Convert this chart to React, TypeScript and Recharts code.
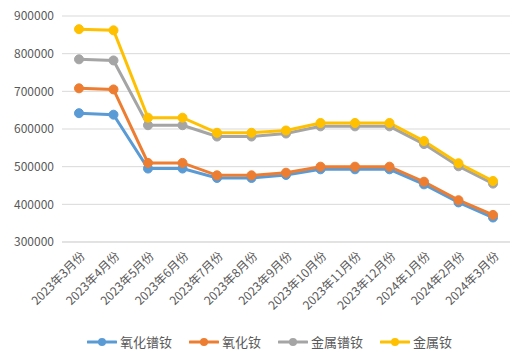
import { LineChart, Line, XAxis, YAxis, CartesianGrid } from 'recharts'

const months = [
  '2023年3月份', '2023年4月份', '2023年5月份', '2023年6月份', '2023年7月份',
  '2023年8月份', '2023年9月份', '2023年10月份', '2023年11月份', '2023年12月份',
  '2024年1月份', '2024年2月份', '2024年3月份',
]

const prNdOxide = [642000, 638000, 495000, 495000, 470000, 470000, 478000, 493000, 493000, 493000, 453000, 405000, 365000]
const ndOxide = [708000, 705000, 510000, 510000, 477000, 477000, 484000, 500000, 500000, 500000, 460000, 411000, 372000]
const prNdMetal = [785000, 782000, 610000, 610000, 580000, 580000, 588000, 607000, 607000, 607000, 560000, 501000, 455000]
const ndMetal = [865000, 862000, 630000, 630000, 590000, 590000, 596000, 616000, 616000, 616000, 568000, 509000, 462000]

const yTicks = [300000, 400000, 500000, 600000, 700000, 800000, 900000]

const series = [
  { key: 'prNdOxide', name: '氧化镨钕', color: '#5B9BD5' },
  { key: 'ndOxide', name: '氧化钕', color: '#ED7D31' },
  { key: 'prNdMetal', name: '金属镨钕', color: '#A5A5A5' },
  { key: 'ndMetal', name: '金属钕', color: '#FFC000' },
]

const data = months.map((m, i) => ({
  month: m,
  prNdOxide: prNdOxide[i],
  ndOxide: ndOxide[i],
  prNdMetal: prNdMetal[i],
  ndMetal: ndMetal[i],
}))

const FONT = '"Noto Sans CJK SC", "Noto Sans", sans-serif'

function MonthTick({ x, y, payload }: any) {
  return (
    <g transform={`translate(${x + 4},${y + 4})`}>
      <text
        transform="rotate(-45)"
        textAnchor="end"
        dy={4}
        fontSize={12}
        fill="#595959"
        fontFamily={FONT}
      >
        {payload.value}
      </text>
    </g>
  )
}

function LegendRow() {
  return (
    <div
      style={{
        position: 'absolute',
        top: 332,
        left: 6,
        width: 527,
        display: 'flex',
        justifyContent: 'center',
        gap: 17,
        fontFamily: FONT,
        fontSize: 13,
        color: '#595959',
      }}
    >
      {series.map((s) => (
        <div key={s.key} style={{ display: 'flex', alignItems: 'center' }}>
          <svg width={30} height={12} style={{ marginRight: 3 }}>
            <line x1={1} y1={6} x2={29} y2={6} stroke={s.color} strokeWidth={3} strokeLinecap="round" />
            <circle cx={15} cy={6} r={4} fill={s.color} />
          </svg>
          <span>{s.name}</span>
        </div>
      ))}
    </div>
  )
}

export default function App() {
  return (
    <div
      style={{
        position: 'relative',
        width: 527,
        height: 364,
        margin: -8,
        background: '#fff',
        boxSizing: 'border-box',
      }}
    >
      <div
        style={{
          position: 'absolute',
          inset: 0,
          border: '1px solid #D9D9D9',
          pointerEvents: 'none',
        }}
      />
      <LineChart
        width={527}
        height={364}
        data={data}
        margin={{ top: 16, right: 17, left: 8, bottom: 34 }}
      >
        <CartesianGrid vertical={false} stroke="#D9D9D9" />
        <XAxis
          dataKey="month"
          interval={0}
          height={88}
          padding={{ left: 17, right: 17 }}
          tick={<MonthTick />}
          tickLine={false}
          axisLine={{ stroke: '#D9D9D9' }}
        />
        <YAxis
          domain={[300000, 900000]}
          ticks={yTicks}
          width={54}
          tickLine={false}
          axisLine={false}
          tick={{ fontSize: 12, fill: '#595959', fontFamily: FONT }}
          tickMargin={2}
        />
        {series.map((s) => (
          <Line
            key={s.key}
            dataKey={s.key}
            name={s.name}
            stroke={s.color}
            strokeWidth={3}
            dot={{ r: 4.5, fill: s.color, stroke: s.color, strokeWidth: 1 }}
            isAnimationActive={false}
          />
        ))}
      </LineChart>
      <LegendRow />
    </div>
  )
}
